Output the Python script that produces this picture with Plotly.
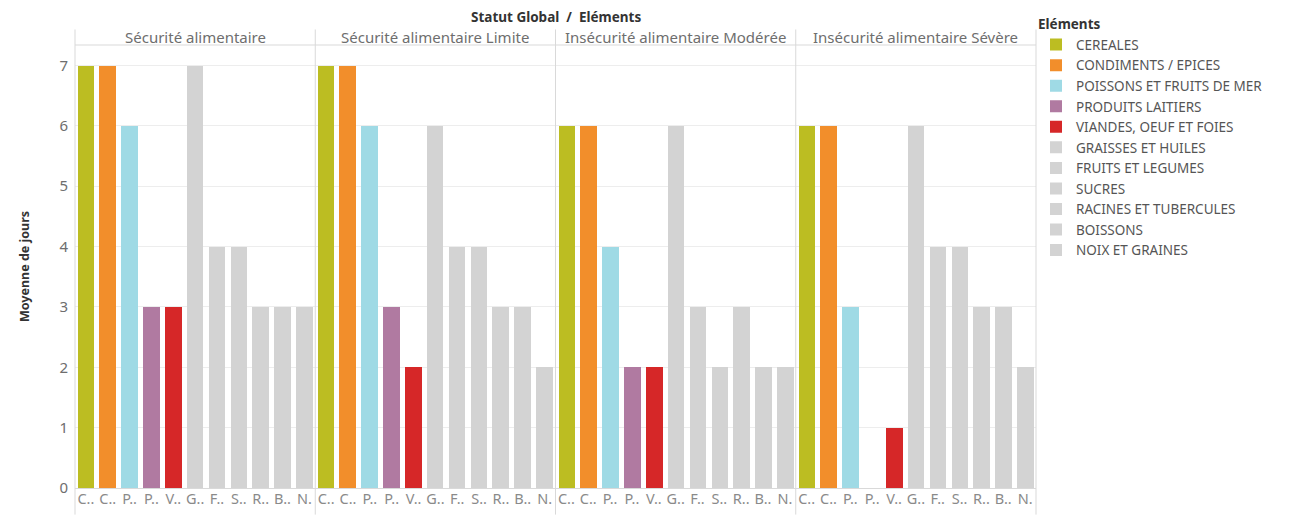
import plotly.graph_objects as go
from plotly.subplots import make_subplots

# Food-security groups (one panel each)
statuts = [
    "Sécurité alimentaire",
    "Sécurité alimentaire Limite",
    "Insécurité alimentaire Modérée",
    "Insécurité alimentaire Sévère",
]

# Food groups, their abbreviated tick labels and colours
elements = [
    "CEREALES",
    "CONDIMENTS / EPICES",
    "POISSONS ET FRUITS DE MER",
    "PRODUITS LAITIERS",
    "VIANDES, OEUF ET FOIES",
    "GRAISSES ET HUILES",
    "FRUITS ET LEGUMES",
    "SUCRES",
    "RACINES ET TUBERCULES",
    "BOISSONS",
    "NOIX ET GRAINES",
]
abbrev = ["C..", "C..", "P..", "P..", "V..", "G..", "F..", "S..", "R..", "B..", "N."]
couleurs = [
    "#BCBD22", "#F28E2B", "#9FDAE5", "#B07AA1", "#D62728",
    "#D3D3D3", "#D3D3D3", "#D3D3D3", "#D3D3D3", "#D3D3D3", "#D3D3D3",
]

# Mean number of days per food group, per status
securite = [7, 7, 6, 3, 3, 7, 4, 4, 3, 3, 3]
limite = [7, 7, 6, 3, 2, 6, 4, 4, 3, 3, 2]
moderee = [6, 6, 4, 2, 2, 6, 3, 2, 3, 2, 2]
severe = [6, 6, 3, None, 1, 6, 4, 4, 3, 3, 2]
valeurs = [securite, limite, moderee, severe]

FONT = "Noto Sans"
GRID = "#EDEDED"
LINE = "#D9D9D9"

fig = make_subplots(rows=1, cols=4, shared_yaxes=True, horizontal_spacing=0)

for i, serie in enumerate(valeurs):
    for j, el in enumerate(elements):
        fig.add_trace(
            go.Bar(
                x=[el],
                y=[serie[j]],
                name=el,
                legendgroup=el,
                showlegend=(i == 0),
                marker=dict(color=couleurs[j], line=dict(width=0)),
                width=0.76,
            ),
            row=1,
            col=i + 1,
        )

for i in range(4):
    fig.update_xaxes(
        domain=[i / 4, (i + 1) / 4],
        categoryorder="array",
        categoryarray=elements,
        tickmode="array",
        tickvals=elements,
        ticktext=abbrev,
        range=[-0.5, 10.5],
        tickfont=dict(family=FONT, size=14.5, color="#8A8A8A"),
        ticks="",
        showgrid=False,
        zeroline=False,
        showline=False,
        row=1,
        col=i + 1,
    )

fig.update_yaxes(
    range=[0, 7.34],
    tickvals=[0, 1, 2, 3, 4, 5, 6, 7],
    tickfont=dict(family=FONT, size=15, color="#6E6E6E"),
    showgrid=True,
    gridcolor=GRID,
    gridwidth=1,
    zeroline=True,
    zerolinecolor=LINE,
    zerolinewidth=1,
    showline=False,
    ticks="",
    ticklabelstandoff=6,
)
fig.update_yaxes(
    title=dict(text="<b>Moyenne de jours</b>", font=dict(family=FONT, size=12.5, color="#333333"), standoff=27),
    row=1,
    col=1,
)

# Panel separators and header band line
shapes = []
for k in range(5):
    shapes.append(dict(type="line", xref="paper", yref="paper", x0=k / 4, x1=k / 4,
                       y0=-0.06, y1=1.035, line=dict(color=LINE, width=1)))
shapes.append(dict(type="line", xref="paper", yref="paper", x0=0, x1=1,
                   y0=1, y1=1, line=dict(color=LINE, width=1)))

annotations = []
for i, s in enumerate(statuts):
    annotations.append(dict(text=s, xref="paper", yref="paper", x=(i + 0.5) / 4, y=1.0,
                            yanchor="bottom", xanchor="center", showarrow=False, yshift=-4,
                            font=dict(family=FONT, size=15, color="#6E6E6E")))
annotations.append(dict(text="<b>Statut Global  /  Eléments</b>", xref="paper", yref="paper",
                        x=0.5, y=1.0, yanchor="bottom", xanchor="center", showarrow=False,
                        yshift=17, font=dict(family=FONT, size=13.5, color="#333333")))

fig.update_layout(
    width=1289,
    height=520,
    margin=dict(l=75, r=253, t=45, b=26),
    paper_bgcolor="white",
    plot_bgcolor="white",
    barmode="overlay",
    bargap=0,
    shapes=shapes,
    annotations=annotations,
    font=dict(family=FONT),
    legend=dict(
        title=dict(text="<b>Eléments</b>", font=dict(family=FONT, size=13.5, color="#333333")),
        font=dict(family=FONT, size=13.5, color="#555555"),
        x=1.0, xanchor="left", xref="paper",
        y=1.075, yanchor="top",
        traceorder="normal",
        itemwidth=30,
        tracegroupgap=0,
        maxheight=480,
        bgcolor="rgba(0,0,0,0)",
    ),
)

fig.write_html("out.html")
